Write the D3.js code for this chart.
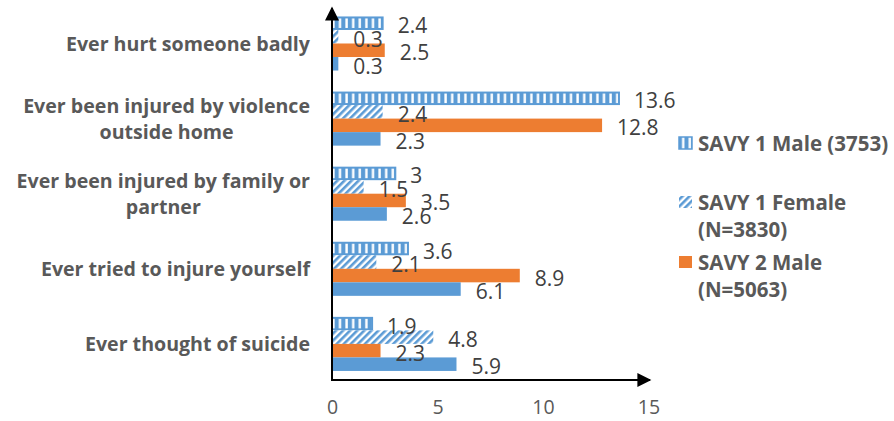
<!DOCTYPE html>
<html>
<head>
<meta charset="utf-8">
<script src="https://cdn.jsdelivr.net/npm/d3@7"></script>
<style>
  html, body { margin: 0; padding: 0; background: #ffffff; }
  svg { display: block; }
</style>
</head>
<body>
<svg id="chart" width="894" height="421"></svg>
<script>
// Categories, top to bottom
const categories = [
  "Ever hurt someone badly",
  "Ever been injured by violence outside home",
  "Ever been injured by family or partner",
  "Ever tried to injure yourself",
  "Ever thought of suicide"
];
// Wrapped label lines for each category
const categoryLines = [
  ["Ever hurt someone badly"],
  ["Ever been injured by violence", "outside home"],
  ["Ever been injured by family or", "partner"],
  ["Ever tried to injure yourself"],
  ["Ever thought of suicide"]
];
// Series (in bar order within each group, top to bottom)
const seriesNames = ["SAVY 1 Male (3753)", "SAVY 1 Female (N=3830)", "SAVY 2 Male (N=5063)", "SAVY 2 Female"];
const savy1Male   = [2.4, 13.6, 3, 3.6, 1.9];
const savy1Female = [0.3, 2.4, 1.5, 2.1, 4.8];
const savy2Male   = [2.5, 12.8, 3.5, 8.9, 2.3];
const savy2Female = [0.3, 2.3, 2.6, 6.1, 5.9];
const seriesValues = [savy1Male, savy1Female, savy2Male, savy2Female];
// Legend entries (text lines), only the first three series are listed
const legendLines = [
  ["SAVY 1 Male (3753)"],
  ["SAVY 1 Female", "(N=3830)"],
  ["SAVY 2 Male", "(N=5063)"]
];
const xTicks = [0, 5, 10, 15];

const BLUE = "#5B9BD5", ORANGE = "#ED7D31";
const FONT = "'Open Sans', sans-serif";
const svg = d3.select("#chart");

// Patterns for the SAVY 1 bars
const defs = svg.append("defs");
const vp = defs.append("pattern").attr("id", "vstripe")
  .attr("patternUnits", "userSpaceOnUse").attr("width", 6.6).attr("height", 40);
vp.append("rect").attr("width", 6.6).attr("height", 40).attr("fill", BLUE);
vp.append("rect").attr("x", 2.2).attr("width", 2.4).attr("height", 40).attr("fill", "#ffffff");

const dp = defs.append("pattern").attr("id", "dstripe")
  .attr("patternUnits", "userSpaceOnUse").attr("width", 5).attr("height", 5)
  .attr("patternTransform", "rotate(45)");
dp.append("rect").attr("width", 5).attr("height", 5).attr("fill", "#ffffff");
dp.append("rect").attr("width", 2.6).attr("height", 5).attr("fill", BLUE);

const x = d3.scaleLinear().domain([0, 15]).range([332, 648.5]);
const y = d3.scaleBand().domain(categories).range([12.7, 374.7])
  .paddingInner(0.28).paddingOuter(0.05);
const ySub = d3.scaleBand().domain(d3.range(4)).range([0, y.bandwidth()]);

const fills = ["url(#vstripe)", "url(#dstripe)", ORANGE, BLUE];

const rows = [];
categories.forEach((c, i) => {
  seriesValues.forEach((vals, s) => rows.push({ cat: c, s, v: vals[i] }));
});

const g = svg.append("g");
g.selectAll("rect.bar").data(rows).join("rect")
  .attr("class", "bar")
  .attr("x", x(0))
  .attr("y", d => y(d.cat) + ySub(d.s) + (d.s === 0 ? 1 : 0))
  .attr("width", d => x(d.v) - x(0))
  .attr("height", d => ySub.bandwidth() - (d.s === 0 ? 2 : 0))
  .attr("fill", d => fills[d.s])
  .attr("stroke", d => d.s === 0 ? BLUE : "none")
  .attr("stroke-width", 2);

// Value labels
g.selectAll("text.val").data(rows).join("text")
  .attr("class", "val")
  .attr("x", d => x(d.v) + 15)
  .attr("y", d => y(d.cat) + ySub(d.s) + ySub.bandwidth() / 2 + 2)
  .attr("dominant-baseline", "central")
  .attr("font-family", FONT)
  .attr("font-size", 21)
  .attr("fill", "#404040")
  .text(d => d.v);

// Category labels: block right-aligned, lines centred inside the block
const catG = svg.append("g");
categoryLines.forEach((lines, i) => {
  const cy = y(categories[i]) + y.bandwidth() / 2;
  const lh = 26;
  const tg = catG.append("g");
  const texts = lines.map((ln, k) => tg.append("text")
    .attr("y", cy + (k - (lines.length - 1) / 2) * lh)
    .attr("dominant-baseline", "central")
    .attr("text-anchor", "middle")
    .attr("font-family", FONT)
    .attr("font-weight", "bold")
    .attr("font-size", 19.6)
    .attr("fill", "#595959")
    .text(ln));
  const maxW = d3.max(texts, t => t.node().getComputedTextLength());
  texts.forEach(t => t.attr("x", 310 - maxW / 2));
});

// Axes
const xAxis = svg.append("g").attr("transform", "translate(0,380)")
  .call(d3.axisBottom(x).tickValues(xTicks).tickSize(0).tickPadding(20));
xAxis.select(".domain").remove();
xAxis.selectAll("text")
  .attr("font-family", FONT)
  .attr("font-size", 19.5).attr("fill", "#595959");

const arrow = defs.append("marker").attr("id", "arrow")
  .attr("viewBox", "0 0 10 10").attr("refX", 9).attr("refY", 5)
  .attr("markerWidth", 8).attr("markerHeight", 7).attr("orient", "auto")
  .attr("markerUnits", "strokeWidth");
arrow.append("path").attr("d", "M0,0 L10,5 L0,10 Z").attr("fill", "#000");

svg.append("line").attr("x1", x(0)).attr("x2", x(0)).attr("y1", 381).attr("y2", 8)
  .attr("stroke", "#000").attr("stroke-width", 2).attr("marker-end", "url(#arrow)");
svg.append("line").attr("x1", x(0) - 1).attr("x2", 650).attr("y1", 380).attr("y2", 380)
  .attr("stroke", "#000").attr("stroke-width", 2).attr("marker-end", "url(#arrow)");

// Legend
const legendY = [143, 202, 262];
const lg = svg.append("g");
legendLines.forEach((lines, i) => {
  const ly = legendY[i];
  lg.append("rect").attr("x", 679).attr("y", ly - 6).attr("width", 13).attr("height", 12)
    .attr("fill", fills[i]).attr("stroke", i === 0 ? BLUE : "none").attr("stroke-width", 1.5);
  lines.forEach((ln, k) => lg.append("text")
    .attr("x", 698).attr("y", ly + k * 27)
    .attr("dominant-baseline", "central")
    .attr("font-family", FONT)
    .attr("font-weight", "bold")
    .attr("font-size", 20.5)
    .attr("fill", "#595959")
    .text(ln));
});
</script>
</body>
</html>
